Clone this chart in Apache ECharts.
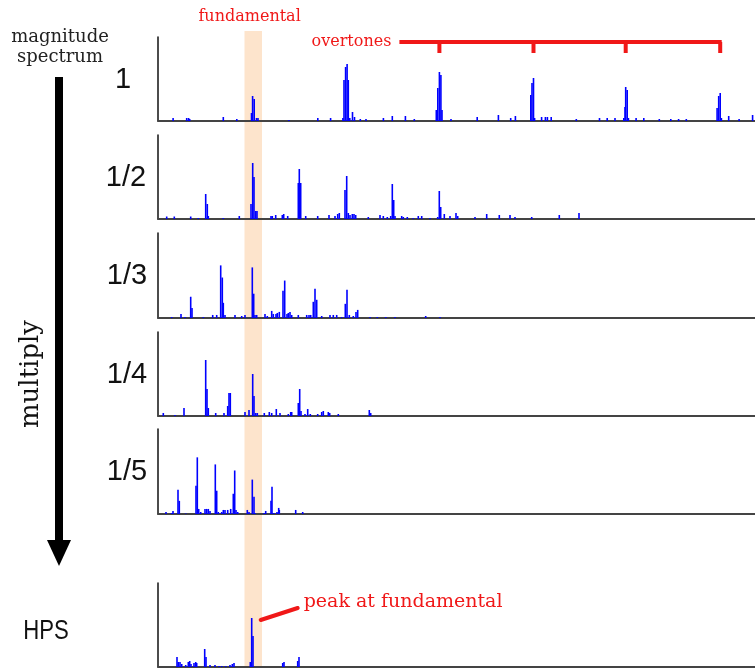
<!DOCTYPE html>
<html>
<head>
<meta charset="utf-8">
<script src="https://cdn.jsdelivr.net/npm/echarts@6/dist/echarts.min.js"></script>
<style>
html,body{margin:0;padding:0;background:#fff;}
#main{width:755px;height:668px;}
</style>
</head>
<body>
<div id="main"></div>
<script>
// ---- data: [bin, magnitude] pairs ----
var panelLabels = ['1', '1/2', '1/3', '1/4', '1/5', 'HPS'];

var spec1 = [[15.1,3],[28.7,3],[30.6,3],[31.7,2],[65.3,4],[78.8,2],[93.5,8],[94.6,25],[96.2,22],[98.5,3],[100,3],[130.9,1],[159.8,3],[172.6,3],[184.9,3],[186,41],[187.6,54],[189.1,57],[190.3,41],[191.8,3],[194.5,9],[196.5,4],[202.3,2],[208,2],[225.4,3],[234.3,5],[247.4,5],[256.3,2],[278.3,11],[279.8,33],[281.4,49],[282.9,46],[284,11],[293,2],[319.2,4],[340.4,6],[352.7,3],[357.4,5],[372.8,26],[374,38],[375.5,43],[376.6,3],[383.6,4],[387.4,4],[389.4,4],[393.2,4],[418.3,2],[441.5,3],[449.2,3],[457,3],[465.8,3],[467,14],[467.7,34],[469.2,31],[470.4,3],[478.1,3],[485.8,3],[501.3,2],[512.8,2],[520.6,2],[528.3,2],[559.1,13],[560.7,25],[562.2,28],[563.4,3],[570.7,5],[581.1,2],[594.6,6]];

var spec2 = [[8.7,2.5],[16.3,2.5],[32.7,2.5],[40.3,1],[47.7,25],[49.3,15],[50.3,3],[65.3,1],[81.3,3],[93,15],[94.7,56],[96,42],[97.7,8],[99,8],[113,3],[114.3,3],[117.7,4],[124.3,4],[125.7,5],[129.7,3],[140.3,36],[141.3,50],[142.7,36],[147.7,3],[159.7,3],[171,4],[177,3],[179.7,5],[181.3,6],[187,29],[188.7,43],[190.3,6],[192,4],[194.3,5],[196,5],[197.7,4],[210.3,2],[222,4],[225.3,3],[229.3,2],[232.7,3],[234.3,35],[235.7,19],[237,3],[243.7,3],[245.3,2],[249.3,2],[255.3,1],[260.3,3],[263.7,3],[272,1],[279.7,2],[281.3,28],[282.7,12],[286.3,5],[292,3],[298,6],[299.7,3],[317,2],[328.7,5],[341.3,4],[352,4],[357,2],[373.7,2],[401.3,4],[421,6]];

var spec3 = [[13.7,1],[23,4],[27,1],[32.7,21],[34,10],[45.3,1],[54.7,3],[58.7,3],[62.7,52],[64.3,40],[65.3,15],[67,3],[77,3],[83.7,2],[87,3],[94.3,50],[95.7,24],[97,3],[98.7,3],[107,4],[109.3,2],[113.7,7],[115.3,4],[118,4],[119.3,5],[121.3,6],[125,27],[126.7,37],[129,4],[130.3,5],[132,6],[133.7,3],[140.3,3],[148.7,3],[151,3],[152.7,3],[155.3,16],[157,29],[158.7,18],[163.7,2],[172,3],[175.3,3],[178.7,3],[183.7,1],[187.3,14],[189,28],[191.3,3],[195.3,2],[198,6],[199.7,8],[212,1],[219.3,1],[227.7,1],[237,1],[267.7,2],[282,1]];

var spec4 = [[5.3,3],[17,1],[26,8],[47.7,56],[49,27],[50.3,8],[57.7,3],[66,3],[69.7,10],[71,23],[72.3,23],[87,4],[91,6],[94.7,42],[96,20],[97.7,3],[99.3,3],[106.3,3],[111.3,4],[113.7,3],[118.3,7],[122,3],[130.3,2],[132.7,4],[133.7,4],[140.3,13],[141.7,27],[143,5],[147,2],[149.7,7],[152.3,2],[159.7,2],[163.7,4],[165.3,5],[170.3,4],[171.7,3],[180.3,2],[211.3,6],[212.7,3]];

var spec5 = [[8,2],[13.7,1],[15,3],[20,24],[21.3,13],[27.7,0.5],[38,28],[39.3,56],[40.7,5],[42.7,2],[47,5],[48.7,5],[50.3,5],[52,3],[57.3,49],[58.7,23],[60.3,2],[63.7,2],[65.3,4],[67,4],[69.7,4],[72.7,5],[75.3,20],[76.7,43],[78,4],[79.7,2],[89.3,4],[91,2],[94.3,34],[96,17],[97,1],[106,1],[107.7,3],[113,13],[114,27],[116,1],[119,2],[120.7,6],[121.3,4],[137.7,4],[144.7,2]];

var hps = [[19,10],[20.3,5],[22,5],[23.7,3],[27.7,2],[30.3,5],[31.7,6],[33,3],[36,4],[37.7,5],[38.7,4],[46.7,18],[48,10],[52,2],[57,2],[61,1],[63.7,1],[67.7,1],[72,2],[74.3,3],[76,4],[92.3,5],[93.7,49],[95,31],[124.7,4],[126,5],[139.7,6],[141,10]];

var fundamentalBin = 94.6;
var fundamentalBand = [86.5, 104];
var overtoneBins = [281.4, 375.5, 467.7, 562.2];
var hpsPeak = [93.7, 49];
var binMax = 597;
var magMax = 84;

// ---- layout ----
var allSpec = [spec1, spec2, spec3, spec4, spec5, hps];
var tops = [37, 135, 233, 332, 429, 583];
var heights = [84, 84, 85, 84, 85, 84];

var chart = echarts.init(document.getElementById('main'), null, {renderer: 'canvas'});

var grids = [], xAxes = [], yAxes = [], series = [];
allSpec.forEach(function (d, i) {
  grids.push({left: 158, right: 0, top: tops[i], height: heights[i], containLabel: false});
  xAxes.push({
    type: 'value', gridIndex: i, min: 0, max: binMax,
    axisLine: {show: true, onZero: false, lineStyle: {color: '#444', width: 2}},
    axisTick: {show: false}, axisLabel: {show: false}, splitLine: {show: false}
  });
  yAxes.push({
    type: 'value', gridIndex: i, min: 0, max: magMax,
    axisLine: {show: true, lineStyle: {color: '#111', width: 1.5}},
    axisTick: {show: false}, axisLabel: {show: false}, splitLine: {show: false}
  });
  series.push({
    type: 'bar', xAxisIndex: i, yAxisIndex: i, data: d,
    barWidth: 1.6, itemStyle: {color: '#0000ff'},
    animation: false, silent: true
  });
});

chart.setOption({
  animation: false,
  grid: grids, xAxis: xAxes, yAxis: yAxes, series: series
});

// ---- annotations placed via the axes ----
function px(bin) { return chart.convertToPixel({xAxisIndex: 0}, bin); }
var bandL = px(fundamentalBand[0]), bandR = px(fundamentalBand[1]);
var fx = px(fundamentalBin);
var ot = overtoneBins.map(px);
var hp = chart.convertToPixel({gridIndex: 5}, hpsPeak);

var red = '#f01818';
var serif = '"DejaVu Serif", "Liberation Serif", serif';
var sans = '"Liberation Sans", Arial, sans-serif';

var graphics = [
  {type: 'rect', z: -1, shape: {x: bandL, y: 31, width: bandR - bandL, height: 637}, style: {fill: '#fde4cc'}},
  {type: 'text', x: fx - 3, y: 17, style: {text: 'fundamental', fill: red, font: '16px ' + serif, textAlign: 'center', textVerticalAlign: 'middle'}},
  {type: 'text', x: ot[0] - 48, y: 42, style: {text: 'overtones', fill: red, font: '16px ' + serif, textAlign: 'right', textVerticalAlign: 'middle'}},
  {type: 'line', shape: {x1: ot[0] - 40, y1: 42, x2: ot[ot.length - 1] + 1.5, y2: 42}, style: {stroke: red, lineWidth: 4}},
  {type: 'text', x: 60, y: 37, style: {text: 'magnitude', fill: '#222', font: '18px ' + serif, textAlign: 'center', textVerticalAlign: 'middle'}},
  {type: 'text', x: 60, y: 57, style: {text: 'spectrum', fill: '#222', font: '18px ' + serif, textAlign: 'center', textVerticalAlign: 'middle'}},
  {type: 'rect', shape: {x: 55, y: 77, width: 8, height: 464}, style: {fill: '#000'}},
  {type: 'polygon', shape: {points: [[47, 540], [71, 540], [59, 566]]}, style: {fill: '#000'}},
  {type: 'text', x: 31, y: 374, rotation: Math.PI / 2, style: {text: 'multiply', fill: '#111', font: '26px ' + serif, textAlign: 'center', textVerticalAlign: 'middle'}},
  {type: 'text', x: hp[0] + 52, y: 602, style: {text: 'peak at fundamental', fill: red, font: '19px ' + serif, textAlign: 'left', textVerticalAlign: 'middle'}},
  {type: 'line', shape: {x1: hp[0] + 9, y1: hp[1] + 2, x2: hp[0] + 46, y2: hp[1] - 10}, style: {stroke: red, lineWidth: 4, lineCap: 'round'}}
];
ot.forEach(function (x) {
  graphics.push({type: 'line', shape: {x1: x, y1: 42, x2: x, y2: 53}, style: {stroke: red, lineWidth: 4}});
});
var labelX = [123, 126, 127, 127, 127, 46];
panelLabels.forEach(function (t, i) {
  var isH = (i === 5);
  var cy = isH ? 632 : tops[i] + 43;
  graphics.push({type: 'text', x: labelX[i], y: cy, scaleX: isH ? 0.82 : 1,
    style: {text: t, fill: '#111', font: (isH ? '27px ' : '29px ') + sans, textAlign: 'center', textVerticalAlign: 'middle'}});
});

chart.setOption({graphic: {elements: graphics}});
</script>
</body>
</html>
